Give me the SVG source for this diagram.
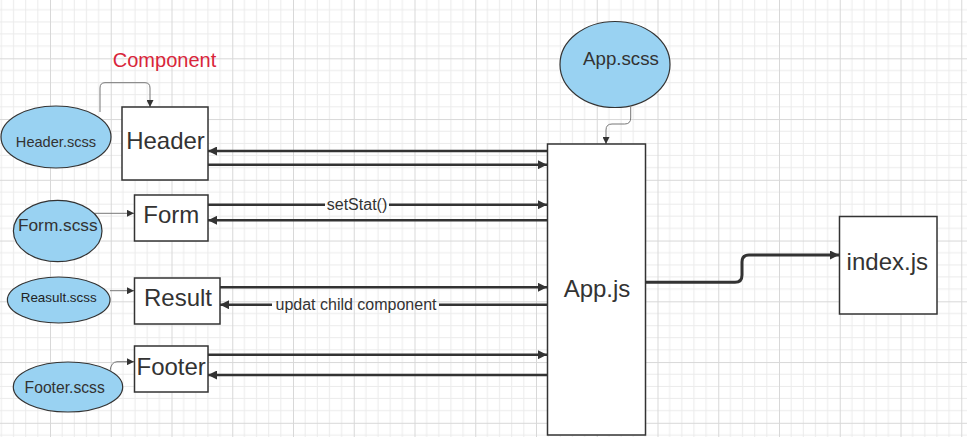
<svg xmlns="http://www.w3.org/2000/svg" width="967" height="437" viewBox="0 0 967 437">
<defs>
<pattern id="grid" patternUnits="userSpaceOnUse" x="-10.75" y="-2.45" width="60.75" height="60.75">
<path d="M12.15 0V60.75M24.3 0V60.75M36.45 0V60.75M48.6 0V60.75M0 12.15H60.75M0 24.3H60.75M0 36.45H60.75M0 48.6H60.75" stroke="#ebebeb" stroke-width="1" fill="none"/>
<path d="M0.5 0V60.75M0 0.5H60.75" stroke="#d8d8d8" stroke-width="1" fill="none"/>
</pattern>
<marker id="ah" viewBox="0 0 10 10" refX="10" refY="5" markerUnits="userSpaceOnUse" markerWidth="13" markerHeight="9" orient="auto">
<path d="M0 0L10 5L0 10z" fill="#333"/>
</marker>
<marker id="as" viewBox="0 0 10 10" refX="10" refY="5" markerUnits="userSpaceOnUse" markerWidth="8" markerHeight="7" orient="auto">
<path d="M0 0L10 5L0 10z" fill="#333"/>
</marker>
</defs>
<style>
text{font-family:"Liberation Sans",Arial,sans-serif;fill:#333}
.box{fill:#fff;stroke:#333;stroke-width:1.5}
.ell{fill:#99d2f2;stroke:#333;stroke-width:1.2}
.big{font-size:24px;text-anchor:middle}
.thick{fill:none;stroke:#333;stroke-width:2.5;marker-end:url(#ah)}
.thin{fill:none;stroke:#777;stroke-width:1;marker-end:url(#as)}
.lbl{font-size:16px;text-anchor:middle}
</style>
<rect width="967" height="437" fill="#fff"/>
<rect width="967" height="437" fill="url(#grid)"/>

<text x="164.5" y="67" font-size="20" text-anchor="middle" style="fill:#d9253a">Component</text>

<g id="connectors">
<path class="thin" d="M100 112V88Q100 82.7 105 82.7H145Q150 82.7 150 88V107"/>
<path class="thin" d="M93 213.3H134"/>
<path class="thin" d="M110 290.7H134"/>
<path class="thin" d="M110 371Q111 362 117 361.7H134"/>
<path class="thin" d="M630.7 107V118Q630.7 124 624.7 124H612Q606 124 606 130V144"/>
<path class="thick" d="M547 151H208"/>
<path class="thick" d="M208 164.7H547"/>
<path class="thick" d="M208 204.7H325M389 204.7H547"/>
<path class="thick" d="M547 220.3H208"/>
<path class="thick" d="M220 287.3H547"/>
<path class="thick" d="M547 304.7H439M272 304.7H220"/>
<path class="thick" d="M208 354.7H547"/>
<path class="thick" d="M547 375H208"/>
<path class="thick" style="stroke-width:3" d="M646 282.3H735Q742 282.3 742 275V262Q742 255 749 255H839"/>
<text class="lbl" x="357" y="210">setStat()</text>
<text class="lbl" x="356" y="310">updat child component</text>
</g>

<g id="header-scss"><ellipse class="ell" cx="56" cy="137" rx="55" ry="31"/><text x="56" y="146.7" font-size="14.6" text-anchor="middle">Header.scss</text></g>
<g id="header"><rect class="box" x="122" y="107" width="86" height="73"/><text class="big" x="165.5" y="149">Header</text></g>

<g id="form-scss"><ellipse class="ell" cx="57.7" cy="231" rx="44.3" ry="30.7"/><text x="57.8" y="230.7" font-size="17.3" text-anchor="middle">Form.scss</text></g>
<g id="form"><rect class="box" x="134.5" y="195" width="73.5" height="46"/><text class="big" x="171.3" y="223.3">Form</text></g>

<g id="reasult-scss"><ellipse class="ell" cx="58.7" cy="300" rx="51.3" ry="23"/><text x="58.7" y="301.7" font-size="13.4" text-anchor="middle" style="fill:#222">Reasult.scss</text></g>
<g id="result"><rect class="box" x="134.5" y="278" width="85.5" height="46"/><text class="big" x="178" y="306">Result</text></g>

<g id="footer-scss"><ellipse class="ell" cx="68" cy="387" rx="54.7" ry="25"/><text x="64.7" y="392.7" font-size="15.7" text-anchor="middle">Footer.scss</text></g>
<g id="footer"><rect class="box" x="134.5" y="346" width="73.5" height="46"/><text class="big" x="171.2" y="375">Footer</text></g>

<g id="app-scss"><ellipse class="ell" cx="615" cy="64.5" rx="55" ry="43"/><text x="621" y="65" font-size="18.7" text-anchor="middle">App.scss</text></g>
<g id="app-js"><rect class="box" x="547.5" y="144" width="98" height="291"/><text class="big" x="597" y="297">App.js</text></g>

<g id="index-js"><rect class="box" x="839.5" y="216.5" width="97.5" height="97.5"/><text class="big" x="887.3" y="270">index.js</text></g>
</svg>
